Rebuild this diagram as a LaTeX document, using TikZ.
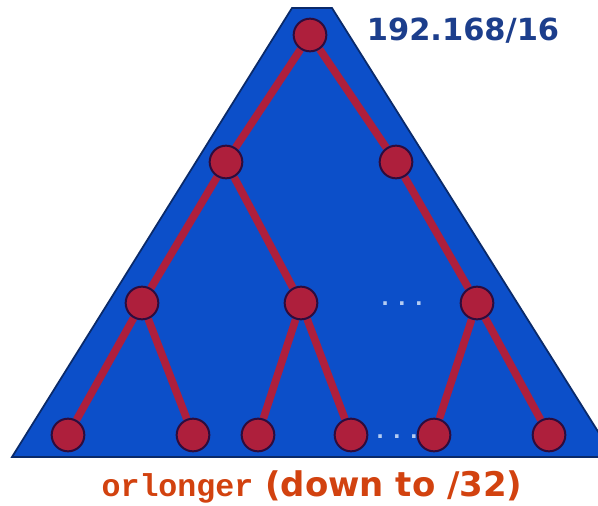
\documentclass[tikz,border=0pt]{standalone}
\usepackage{fontspec}
\setmainfont{DejaVu Sans}
\newfontfamily\codefont{Liberation Mono}
\usepackage{tikz}
\usetikzlibrary{positioning, backgrounds}
\usepackage{xcolor}
\definecolor{TrieBlue}{HTML}{0C4FC9}
\definecolor{TrieNavy}{HTML}{0A2A6A}
\definecolor{TrieRed}{HTML}{AE1F3C}
\definecolor{TrieRim}{HTML}{2E0C3C}
\definecolor{PrefixBlue}{HTML}{1C3E8C}
\definecolor{PrefixOrange}{HTML}{D2420F}
\definecolor{DotBlue}{HTML}{B4CCF2}
\pgfdeclarelayer{tri}
\pgfdeclarelayer{edges}
\pgfsetlayers{tri,edges,main}
\tikzset{
    % Node styles
    prefixnode/.style={
        circle,
        draw=TrieRim,
        fill=TrieRed,
        line width=1.7pt,
        minimum size=0.98cm,
        inner sep=0pt
    },
    % Edge styles
    trieedge/.style={
        draw=TrieRed,
        line width=6.5pt
    },
    % Triangle style
    triebody/.style={
        draw=TrieNavy,
        fill=TrieBlue,
        line width=1.5pt
    },
    moredots/.style={
        text=DotBlue,
        font=\bfseries\fontsize{17}{17}\selectfont
    }
}
\begin{document}
\begin{tikzpicture}[x=0.03cm, y=-0.03cm]
    \clip (0,0) rectangle (598,505);

    % Triangle
    \begin{pgfonlayer}{tri}
        \fill[white] (0,0) rectangle (598,505);
        \path[triebody] (292,8) -- (332,8) -- (614,457) -- (12,457) -- cycle;
    \end{pgfonlayer}

    % Root
    \node[prefixnode] (r) at (310,35) {};

    % Level 1
    \node[prefixnode] (a) at (226,162) {};
    \node[prefixnode] (b) at (396,162) {};

    % Level 2
    \node[prefixnode] (aa) at (142,303) {};
    \node[prefixnode] (ab) at (301,303) {};
    \node[prefixnode] (bb) at (477,303) {};

    % Level 3
    \node[prefixnode] (aaa) at (68,435) {};
    \node[prefixnode] (aab) at (193,435) {};
    \node[prefixnode] (aba) at (258,435) {};
    \node[prefixnode] (abb) at (351,435) {};
    \node[prefixnode] (bba) at (434,435) {};
    \node[prefixnode] (bbb) at (549,435) {};

    % Edges
    \begin{pgfonlayer}{edges}
        \draw[trieedge] (r) -- (a);
        \draw[trieedge] (r) -- (b);
        \draw[trieedge] (a) -- (aa);
        \draw[trieedge] (a) -- (ab);
        \draw[trieedge] (b) -- (bb);
        \draw[trieedge] (aa) -- (aaa);
        \draw[trieedge] (aa) -- (aab);
        \draw[trieedge] (ab) -- (aba);
        \draw[trieedge] (ab) -- (abb);
        \draw[trieedge] (bb) -- (bba);
        \draw[trieedge] (bb) -- (bbb);
    \end{pgfonlayer}

    % Elided subtrees
    \node[moredots] (dots1) at (402,304) {. . .};
    \node[moredots] (dots2) at (397,437) {. . .};

    % Labels
    \node[text=PrefixBlue, font=\bfseries\fontsize{26}{26}\selectfont] (net) at (463,31) {192.168/16};
    \node[text=PrefixOrange, font=\bfseries\fontsize{29}{29}\selectfont] (longer) at (312,487)
        {{\codefont\fontsize{27}{27}\selectfont orlonger} (down to /32)};
\end{tikzpicture}
\end{document}
